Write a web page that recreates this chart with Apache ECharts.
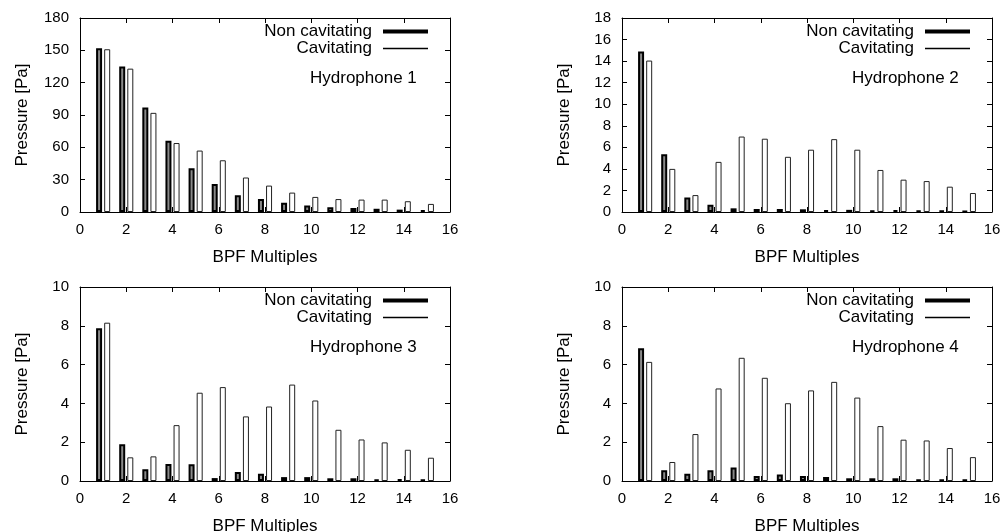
<!DOCTYPE html>
<html>
<head>
<meta charset="utf-8">
<script src="https://cdn.jsdelivr.net/npm/echarts@6/dist/echarts.min.js"></script>
<style>
  html, body { margin: 0; padding: 0; background: #fff; }
  #main { width: 1007px; height: 532px; }
</style>
</head>
<body>
<div id="main"></div>
<script>
// BPF multiples (x positions of bar pairs)
var multiples = [1, 2, 3, 4, 5, 6, 7, 8, 9, 10, 11, 12, 13, 14, 15];

// pressure amplitudes [Pa]
var h1Non = [152, 135, 97, 66, 40.5, 26, 15.5, 12, 8.5, 6, 4.5, 3.7, 3, 2.2, 1.8];
var h1Cav = [151, 133, 92, 64, 57, 48, 32, 24.5, 18, 14, 12, 11.5, 11.5, 10, 7.5];
var h2Non = [14.9, 5.35, 1.35, 0.68, 0.34, 0.28, 0.28, 0.25, 0.18, 0.2, 0.15, 0.18, 0.15, 0.12, 0.1];
var h2Cav = [14.05, 4.0, 1.57, 4.65, 7.0, 6.8, 5.12, 5.78, 6.76, 5.78, 3.9, 3.0, 2.87, 2.35, 1.76];
var h3Non = [7.87, 1.89, 0.6, 0.87, 0.86, 0.15, 0.46, 0.38, 0.2, 0.2, 0.14, 0.14, 0.08, 0.1, 0.08];
var h3Cav = [8.16, 1.22, 1.27, 2.88, 4.55, 4.84, 3.33, 3.84, 4.97, 4.15, 2.64, 2.14, 1.99, 1.61, 1.2];
var h4Non = [6.84, 0.55, 0.38, 0.55, 0.69, 0.26, 0.33, 0.26, 0.21, 0.14, 0.14, 0.14, 0.07, 0.07, 0.07];
var h4Cav = [6.14, 0.98, 2.42, 4.77, 6.35, 5.32, 4.01, 4.67, 5.11, 4.3, 2.83, 2.13, 2.09, 1.7, 1.23];

var panelTitles = ['Hydrophone 1', 'Hydrophone 2', 'Hydrophone 3', 'Hydrophone 4'];
var yMax = [180, 18, 10, 10];
var yStep = [30, 2, 2, 2];
var xTicks = { min: 0, max: 16, interval: 2 };

var nonData = [h1Non, h2Non, h3Non, h4Non];
var cavData = [h1Cav, h2Cav, h3Cav, h4Cav];

var font = 'Liberation Sans, Arial, Helvetica, sans-serif';
var myChart = echarts.init(document.getElementById('main'));

// panel boxes: [left, top]
var boxes = [[80, 18], [622, 18], [80, 287], [622, 287]];
var W = 370, H = 194;

function pairs(vals) {
  return vals.map(function (v, i) { return [multiples[i], v]; });
}

var grids = [], xAxes = [], yAxes = [], series = [], legends = [], titles = [];
boxes.forEach(function (b, p) {
  grids.push({ left: b[0], top: b[1], width: W, height: H, outerBoundsMode: 'none' });
  var line = { show: true, onZero: false, lineStyle: { color: '#000', width: 1 } };
  var tick = { show: true, inside: true, length: 5, lineStyle: { color: '#000' } };
  // bottom x
  xAxes.push({
    gridIndex: p, type: 'value', position: 'bottom',
    min: xTicks.min, max: xTicks.max, interval: xTicks.interval,
    axisLine: line, axisTick: tick, splitLine: { show: false },
    axisLabel: { color: '#000', fontSize: 15, fontFamily: font, margin: 10 },
    name: 'BPF Multiples', nameLocation: 'middle', nameGap: 37,
    nameTextStyle: { color: '#000', fontSize: 17, fontFamily: font }
  });
  // top x (mirror)
  xAxes.push({
    gridIndex: p, type: 'value', position: 'top',
    min: xTicks.min, max: xTicks.max, interval: xTicks.interval,
    axisLine: line, axisTick: tick, splitLine: { show: false },
    axisLabel: { show: false }
  });
  // left y
  yAxes.push({
    gridIndex: p, type: 'value', position: 'left',
    min: 0, max: yMax[p], interval: yStep[p],
    axisLine: line, axisTick: tick, splitLine: { show: false },
    axisLabel: { color: '#000', fontSize: 15, fontFamily: font, margin: 11 },
    name: 'Pressure [Pa]', nameLocation: 'middle', nameGap: 49,
    nameTextStyle: { color: '#000', fontSize: 17, fontFamily: font }
  });
  // right y (mirror)
  yAxes.push({
    gridIndex: p, type: 'value', position: 'right',
    min: 0, max: yMax[p], interval: yStep[p],
    axisLine: line, axisTick: tick, splitLine: { show: false },
    axisLabel: { show: false }
  });

  series.push({
    name: 'Non cavitating', type: 'bar',
    xAxisIndex: 2 * p, yAxisIndex: 2 * p,
    barWidth: 6, barGap: '35%',
    itemStyle: { color: '#8a8a8a', borderColor: '#000', borderWidth: 2 },
    data: pairs(nonData[p]), silent: true
  });
  series.push({
    name: 'Cavitating', type: 'bar',
    xAxisIndex: 2 * p, yAxisIndex: 2 * p,
    barWidth: 6, barGap: '35%',
    itemStyle: { color: '#fff', borderColor: '#222', borderWidth: 1 },
    data: pairs(cavData[p]), silent: true
  });

  var right = 1007 - (b[0] + W) + 22;
  var textStyle = { color: '#000', fontSize: 17, fontFamily: font, padding: [0, 6, 0, 0] };
  legends.push({
    data: ['Non cavitating'], right: right, top: b[1] + 5, padding: 0,
    align: 'right', icon: 'rect', itemWidth: 45, itemHeight: 4,
    itemStyle: { color: '#000', borderWidth: 0 },
    textStyle: textStyle, selectedMode: false
  });
  legends.push({
    data: ['Cavitating'], right: right, top: b[1] + 22, padding: 0,
    align: 'right', icon: 'rect', itemWidth: 45, itemHeight: 1.5,
    itemStyle: { color: '#000', borderWidth: 0 },
    textStyle: textStyle, selectedMode: false
  });

  titles.push({
    text: panelTitles[p],
    left: b[0] + W - 140, top: b[1] + 52, padding: 0,
    textStyle: { color: '#000', fontSize: 17, fontWeight: 'normal', fontFamily: font }
  });
});

var option = {
  animation: false,
  backgroundColor: '#fff',
  title: titles,
  legend: legends,
  grid: grids,
  xAxis: xAxes,
  yAxis: yAxes,
  series: series
};
myChart.setOption(option);
</script>
</body>
</html>
